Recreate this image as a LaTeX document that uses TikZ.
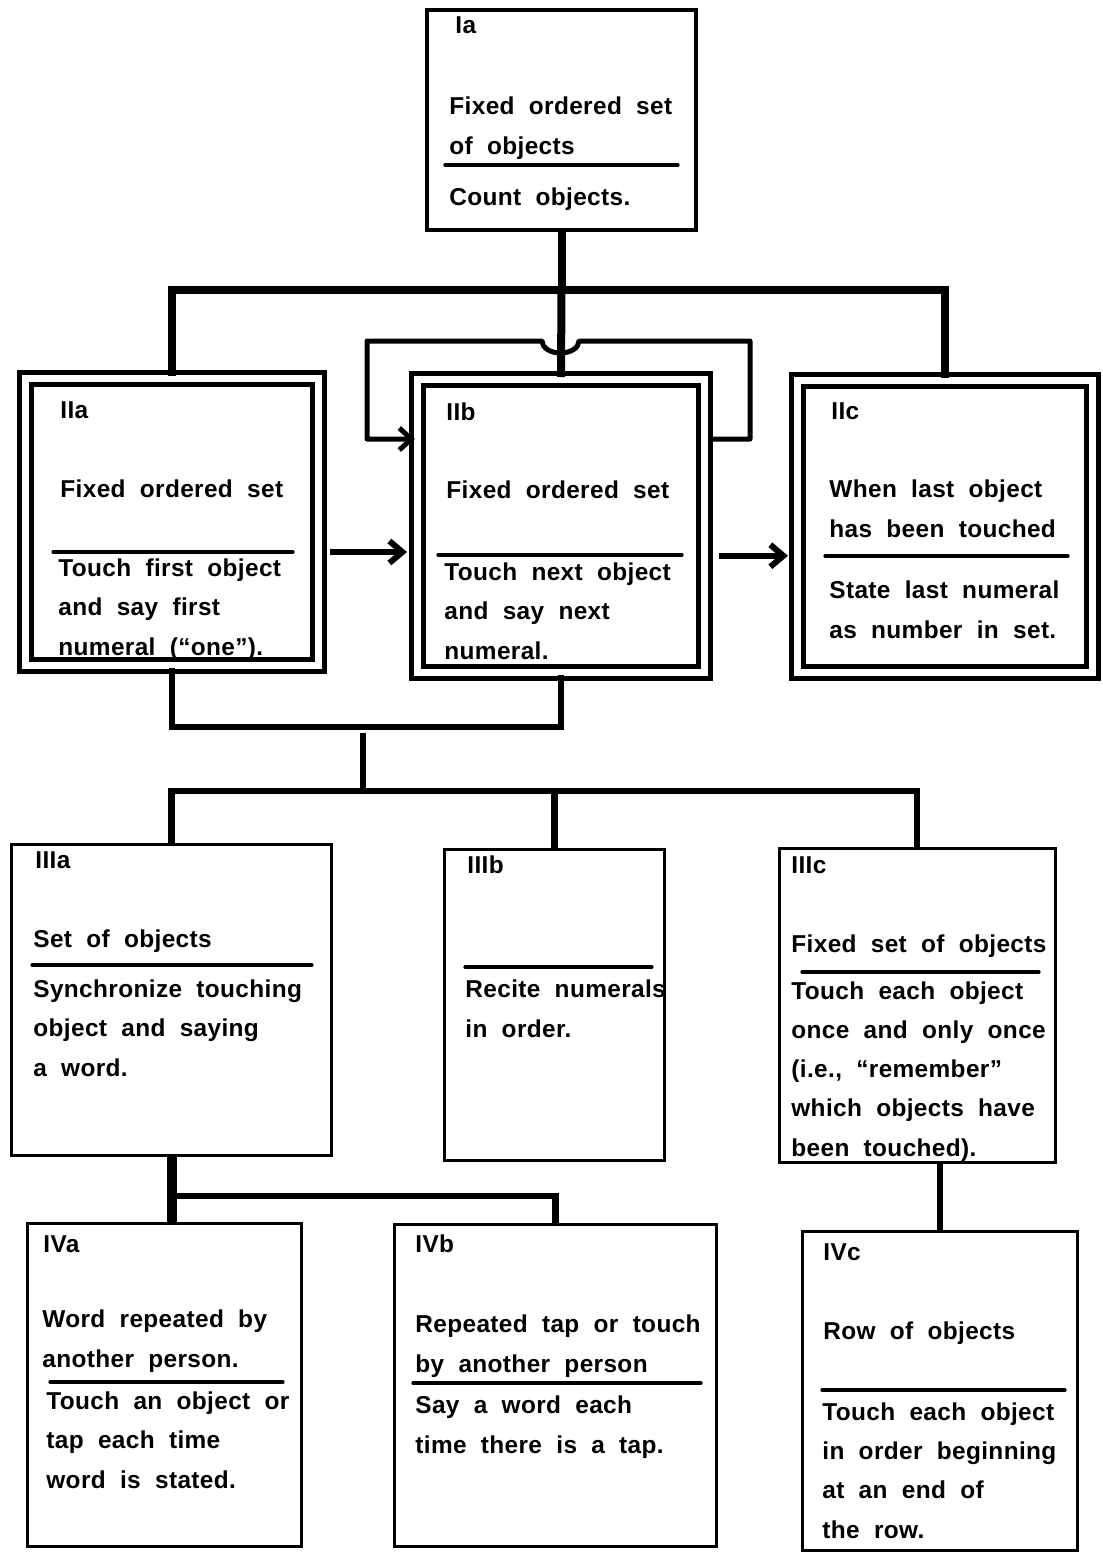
\documentclass[tikz,border=0pt]{standalone}
\usepackage{fontspec}
\setmainfont{Liberation Sans}[BoldFont={Liberation Sans Bold},LetterSpace=1.5,WordSpace=2.0]
\usetikzlibrary{arrows.meta}
\tikzset{
  box/.style={draw, line width=1.5pt, inner sep=0pt},
  dbox/.style={draw, double, line width=2.5pt, double distance=3.5pt, inner sep=0pt},
  % a text block sits on the baseline of its last line
  txt/.style={anchor=base west, align=left, inner sep=0pt,
              font=\bfseries\fontsize{12.2}{19.6}\selectfont},
  divider/.style={line width=1.6pt, line cap=round},
  trunk/.style={line width=4pt},
  branch/.style={line width=3.2pt},
  loopline/.style={line width=2.5pt, line join=round, -{Straight Barb[length=6pt,width=11pt]}},
  arrowline/.style={line width=3pt, -{Straight Barb[length=6.5pt,width=11pt]}}
}

\begin{document}
\begin{tikzpicture}[x=0.5pt, y=-0.5pt]
\useasboundingbox (0,0) rectangle (1103,1555);

% level I
\node[box, line width=2pt, minimum width=134.5pt, minimum height=110pt] (Ia) at (561.5,120) {};
\node[txt] (IaHead) at (455,33) {Ia};
\node[txt] (IaTop) at (449,154) {Fixed ordered set\\of objects};
\draw[divider] (445,165) -- (678,165);
\node[txt] (IaBot) at (449,205) {Count objects.};

% level II
\node[dbox, minimum width=146.25pt, minimum height=143.5pt] (IIa) at (171.75,522) {};
\node[txt] (IIaHead) at (60,418) {IIa};
\node[txt] (IIaTop) at (60,497) {Fixed ordered set};
\draw[divider] (53,552) -- (293,552);
\node[txt] (IIaBot) at (58,655) {Touch first object\\and say first\\numeral (“one”).};

\node[dbox, minimum width=143.5pt, minimum height=146.25pt] (IIb) at (561,525.75) {};
\node[txt] (IIbHead) at (446,420) {IIb};
\node[txt] (IIbTop) at (446,498) {Fixed ordered set};
\draw[divider] (438,555) -- (682,555);
\node[txt] (IIbBot) at (444,659) {Touch next object\\and say next\\numeral.};

\node[dbox, minimum width=147.25pt, minimum height=146pt] (IIc) at (944.75,526) {};
\node[txt] (IIcHead) at (831,419) {IIc};
\node[txt] (IIcTop) at (829,537) {When last object\\has been touched};
\draw[divider] (825,556) -- (1068,556);
\node[txt] (IIcBot) at (829,638) {State last numeral\\as number in set.};

% level III
\node[box, minimum width=160pt, minimum height=155.5pt] (IIIa) at (171.5,1000) {};
\node[txt] (IIIaHead) at (35,868) {IIIa};
\node[txt] (IIIaTop) at (33,947) {Set of objects};
\draw[divider] (32,965) -- (312,965);
\node[txt] (IIIaBot) at (33,1076) {Synchronize touching\\object and saying\\a word.};

\node[box, minimum width=110pt, minimum height=155.5pt] (IIIb) at (554.5,1005) {};
\node[txt] (IIIbHead) at (467,873) {IIIb};
\draw[divider] (465,967) -- (652,967);
\node[txt] (IIIbBot) at (465,1037) {Recite numerals\\in order.};

\node[box, minimum width=137.75pt, minimum height=157.25pt] (IIIc) at (917.25,1005.25) {};
\node[txt] (IIIcHead) at (791,873) {IIIc};
\node[txt] (IIIcTop) at (791,952) {Fixed set of objects};
\draw[divider] (802,972) -- (1039,972);
\node[txt] (IIIcBot) at (791,1156) {Touch each object\\once and only once\\(i.e., “remember”\\which objects have\\been touched).};

% level IV
\node[box, minimum width=137pt, minimum height=161.5pt] (IVa) at (164.5,1385) {};
\node[txt] (IVaHead) at (43,1252) {IVa};
\node[txt] (IVaTop) at (42,1367) {Word repeated by\\another person.};
\draw[divider] (50,1382) -- (283,1382);
\node[txt] (IVaBot) at (46,1488) {Touch an object or\\tap each time\\word is stated.};

\node[box, minimum width=161pt, minimum height=161pt] (IVb) at (555.5,1385.5) {};
\node[txt] (IVbHead) at (415,1252) {IVb};
\node[txt] (IVbTop) at (415,1372) {Repeated tap or touch\\by another person};
\draw[divider] (413,1383) -- (701,1383);
\node[txt] (IVbBot) at (415,1453) {Say a word each\\time there is a tap.};

\node[box, minimum width=137.75pt, minimum height=159.25pt] (IVc) at (939.75,1390.75) {};
\node[txt] (IVcHead) at (823,1260) {IVc};
\node[txt] (IVcTop) at (823,1339) {Row of objects};
\draw[divider] (822,1390) -- (1065,1390);
\node[txt] (IVcBot) at (822,1538) {Touch each object\\in order beginning\\at an end of\\the row.};

% connectors I -> II
\draw[trunk] (Ia.south) -- ++(0,58) coordinate (j1);
\draw[trunk] (IIa.north) |- (j1) -| (IIc.north);
\draw[trunk] (j1) -- (IIb.north);

% loop back into IIb, hopping over the trunk
\draw[loopline] ([xshift=2.5pt,yshift=-31pt]IIb.north east) -- ++(38,0) |- (579,341)
  arc[start angle=0, end angle=-180, x radius=9.25pt, y radius=6pt] -- (367,341)
  |- ([yshift=-31pt]IIb.north west);

% sideways arrows
\path ([xshift=4.5pt,yshift=-15pt]IIa.east) coordinate (a1);
\draw[arrowline, shorten >=4pt] (a1) -- (a1 -| IIb.west);
\path ([xshift=6pt,yshift=-15pt]IIb.east) coordinate (a2);
\draw[arrowline, shorten >=3.5pt] (a2) -- (a2 -| IIc.west);

% connectors II -> III
\draw[branch] (IIa.south) -- ++(0,59) coordinate (j2) -| (IIb.south);
\coordinate (j3) at (363,733);
\draw[branch] (j3) -- ++(0,58) coordinate (j4);
\draw[branch] (IIIa.north) |- (j4) -| (IIIc.north);
\draw[branch] (j4 -| IIIb.north) -- (IIIb.north);

% connectors III -> IV
\draw[line width=5pt] (IIIa.south) -- (IIIa.south |- IVa.north);
\draw[branch] (IIIa.south) ++(0,39) coordinate (j5) -| (IVb.north);
\draw[branch] (IVc.north |- IIIc.south) -- (IVc.north);
\end{tikzpicture}
\end{document}
